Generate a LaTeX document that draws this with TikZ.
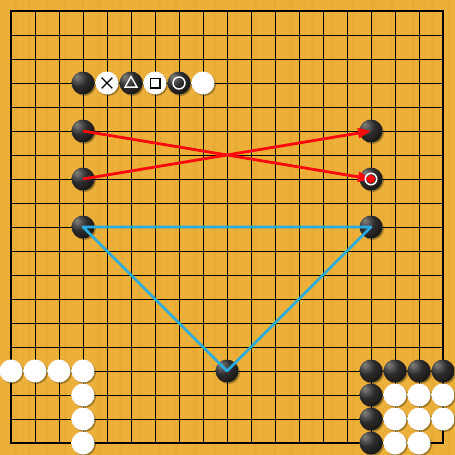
\documentclass[tikz,border=0pt]{standalone}
\usetikzlibrary{arrows.meta,shadows}
\definecolor{wood}{RGB}{236,176,56}
\definecolor{woodd}{RGB}{226,164,44}
\definecolor{cyanl}{RGB}{40,172,226}
\definecolor{redl}{RGB}{250,10,10}
\pgfdeclareradialshading{bstoneshade}{\pgfpoint{-14bp}{14bp}}{color(0bp)=(black!50); color(18bp)=(black!82); color(45bp)=(black!97); color(80bp)=(black)}
\pgfdeclareradialshading{wstoneshade}{\pgfpoint{-12bp}{12bp}}{color(0bp)=(white); color(32bp)=(white); color(58bp)=(black!22); color(80bp)=(black!25)}
\begin{document}
\begin{tikzpicture}[x=24pt,y=-24pt,
  stonebase/.style={circle,minimum size=23pt,inner sep=0pt,
    drop shadow={shadow xshift=1.5pt,shadow yshift=-1.5pt,opacity=0.3,fill=black}},
  bstone/.style={stonebase,shading=bstoneshade},
  wstone/.style={stonebase,shading=wstoneshade},
  markb/.style={black,line width=1.4pt},
  markw/.style={white,line width=1.4pt},
  gridline/.style={black,line width=0.8pt},
  border/.style={black,line width=1.6pt},
  redarrow/.style={redl,line width=2.8pt,-{Triangle[length=13pt,width=10pt]}},
  cyanline/.style={cyanl,line width=2.6pt}]
% background
\fill[wood] (-11/24,-11/24) rectangle (18.5,18.5);
\useasboundingbox (-11/24,-11/24) rectangle (18.5,18.5);
\foreach \xx in {0.1,0.7,1.4,2.2,2.9,3.6,4.5,5.3,6.1,6.8,7.6,8.4,9.3,10.1,10.9,11.6,12.5,13.3,14.2,15.0,15.8,16.7,17.5,18.2}
  \fill[woodd,opacity=0.4] (\xx,-11/24) rectangle (\xx+0.15,18.5);
% grid
\foreach \k in {1,2,3,4,5,6,7,8,9,10,11,12,13,14,15,16,17} {
  \draw[gridline] (\k,0) -- (\k,18);
  \draw[gridline] (0,\k) -- (18,\k);
}
\draw[border] (0,0) rectangle (18,18);
% top row of demonstration stones
\node[bstone] (r1) at (3,3) {};
\node[wstone] (r2) at (4,3) {};
\node[bstone] (r3) at (5,3) {};
\node[wstone] (r4) at (6,3) {};
\node[bstone] (r5) at (7,3) {};
\node[wstone] (r6) at (8,3) {};
% left and right stones
\node[bstone] (l5) at (3,5) {};
\node[bstone] (l7) at (3,7) {};
\node[bstone] (l9) at (3,9) {};
\node[bstone] (q5) at (15,5) {};
\node[bstone] (q7) at (15,7) {};
\node[bstone] (q9) at (15,9) {};
\node[bstone] (m) at (9,15) {};
% bottom-left white group
\foreach \c/\r in {0/15,1/15,2/15,3/15,3/16,3/17,3/18}
  \node[wstone] (w\c-\r) at (\c,\r) {};
% bottom-right group
\foreach \c/\r in {15/15,16/15,17/15,18/15,15/16,15/17,15/18}
  \node[bstone] (b\c-\r) at (\c,\r) {};
\foreach \c/\r in {16/16,17/16,18/16,16/17,17/17,18/17,16/18,17/18}
  \node[wstone] (w\c-\r) at (\c,\r) {};
% marks
\draw[markb] ([shift={(-0.22,-0.22)}]r2.center) -- ([shift={(0.22,0.22)}]r2.center)
             ([shift={(-0.22,0.22)}]r2.center) -- ([shift={(0.22,-0.22)}]r2.center);
\draw[markw,line join=miter] ([shift={(0,-0.27)}]r3.center) -- ([shift={(0.25,0.17)}]r3.center)
             -- ([shift={(-0.25,0.17)}]r3.center) -- cycle;
\draw[markb] ([shift={(-0.2,-0.2)}]r4.center) rectangle ([shift={(0.2,0.2)}]r4.center);
\draw[markw] (r5.center) circle[radius=0.25];
% connectors
\draw[redarrow] (l5.center) -- (q7.center);
\draw[redarrow] (l7.center) -- (q5.center);
\draw[cyanline,line join=round] (l9.center) -- (q9.center) -- (m.center) -- cycle;
% marked stone
\fill[redl] (q7.center) circle[radius=0.17];
\draw[markw,line width=1.5pt] (q7.center) circle[radius=0.24];
\end{tikzpicture}
\end{document}
